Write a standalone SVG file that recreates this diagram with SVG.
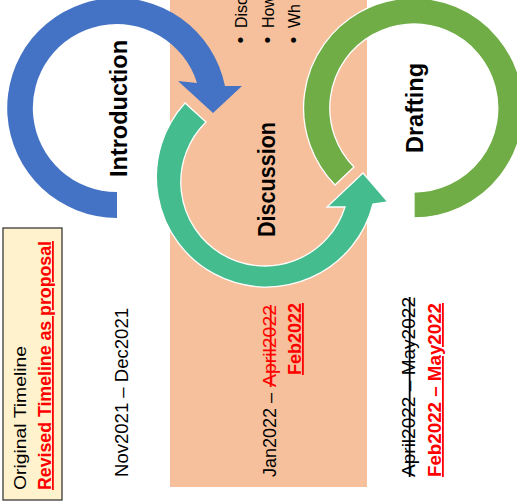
<svg xmlns="http://www.w3.org/2000/svg" width="517" height="502" viewBox="0 0 517 502">
<style>
text{font-family:"Liberation Sans",Arial,sans-serif;fill:#000}
.title{font-size:24px;font-weight:bold;text-anchor:middle}
.bul{font-size:16px}
.dot{font-size:19px}
.tl{font-size:18px}
.red{fill:#FF0000}
.b{font-weight:bold}
.u{text-decoration:underline}
.s{text-decoration:line-through}
.ring{stroke:#FFFFFF;stroke-width:1.3;stroke-linejoin:miter}
</style>
<rect x="0" y="0" width="517" height="502" fill="#FFFFFF"/>
<g id="discussion-band">
<rect x="170" y="0" width="197" height="487" fill="#F5C09B"/>
</g>
<g id="introduction">
<path d="M117,218 A110,110 0 1 1 225,86 L242,86 L213,113 L178,81 L197,83 A84,84 0 1 0 117,192 Z" fill="#4472C4"/>
<text class="title" transform="translate(127,108.5) rotate(-90)" textLength="137" lengthAdjust="spacingAndGlyphs">Introduction</text>
</g>
<g id="drafting">
<path class="ring" d="M414,218 A110,110 0 1 0 335,185 L354,167 A84,84 0 1 1 414,192 Z" fill="#70AD47"/>
<text class="title" transform="translate(423,108) rotate(-90)" textLength="90" lengthAdjust="spacingAndGlyphs">Drafting</text>
</g>
<g id="discussion">
<path class="ring" d="M185,103 A110,110 0 1 0 373,204 L388,202 L363,173 L327,207 L345,207 A84,84 0 1 1 206,122 Z" fill="#44BC8E"/>
<text class="title" transform="translate(275,179.5) rotate(-90)" textLength="115" lengthAdjust="spacingAndGlyphs">Discussion</text>
<text class="dot" transform="translate(247,43.5) rotate(-90)">•</text>
<text class="bul" transform="translate(247,28) rotate(-90)">Disc</text>
<text class="dot" transform="translate(274,43.5) rotate(-90)">•</text>
<text class="bul" transform="translate(274,28) rotate(-90)">How</text>
<text class="dot" transform="translate(300,43.5) rotate(-90)">•</text>
<text class="bul" transform="translate(300,28) rotate(-90)">Wh</text>
</g>
<g id="legend">
<rect x="3" y="228" width="59" height="272" fill="#FFF2CC" stroke="#3A3A3A" stroke-width="1.3"/>
<text transform="translate(26,490) rotate(-90)" style="font-size:17px" textLength="144" lengthAdjust="spacingAndGlyphs">Original Timeline</text>
<text class="red b u" transform="translate(51,490) rotate(-90)" style="font-size:18px" textLength="249" lengthAdjust="spacingAndGlyphs">Revised Timeline as proposal</text>
</g>
<g id="timeline-introduction">
<text class="tl" transform="translate(128,477) rotate(-90)" textLength="169" lengthAdjust="spacingAndGlyphs">Nov2021 – Dec2021</text>
</g>
<g id="timeline-discussion">
<text class="tl" transform="translate(276,477) rotate(-90)" textLength="84" lengthAdjust="spacingAndGlyphs">Jan2022 –</text>
<text class="tl red s" transform="translate(276,387) rotate(-90)" textLength="82" lengthAdjust="spacingAndGlyphs">April2022</text>
<text class="tl red b u" transform="translate(301,375) rotate(-90)" textLength="72" lengthAdjust="spacingAndGlyphs">Feb2022</text>
</g>
<g id="timeline-drafting">
<text class="tl s" transform="translate(415,477) rotate(-90)" textLength="180" lengthAdjust="spacingAndGlyphs">April2022 – May2022</text>
<text class="tl red b u" transform="translate(441,477) rotate(-90)" textLength="174" lengthAdjust="spacingAndGlyphs">Feb2022 – May2022</text>
</g>
</svg>
